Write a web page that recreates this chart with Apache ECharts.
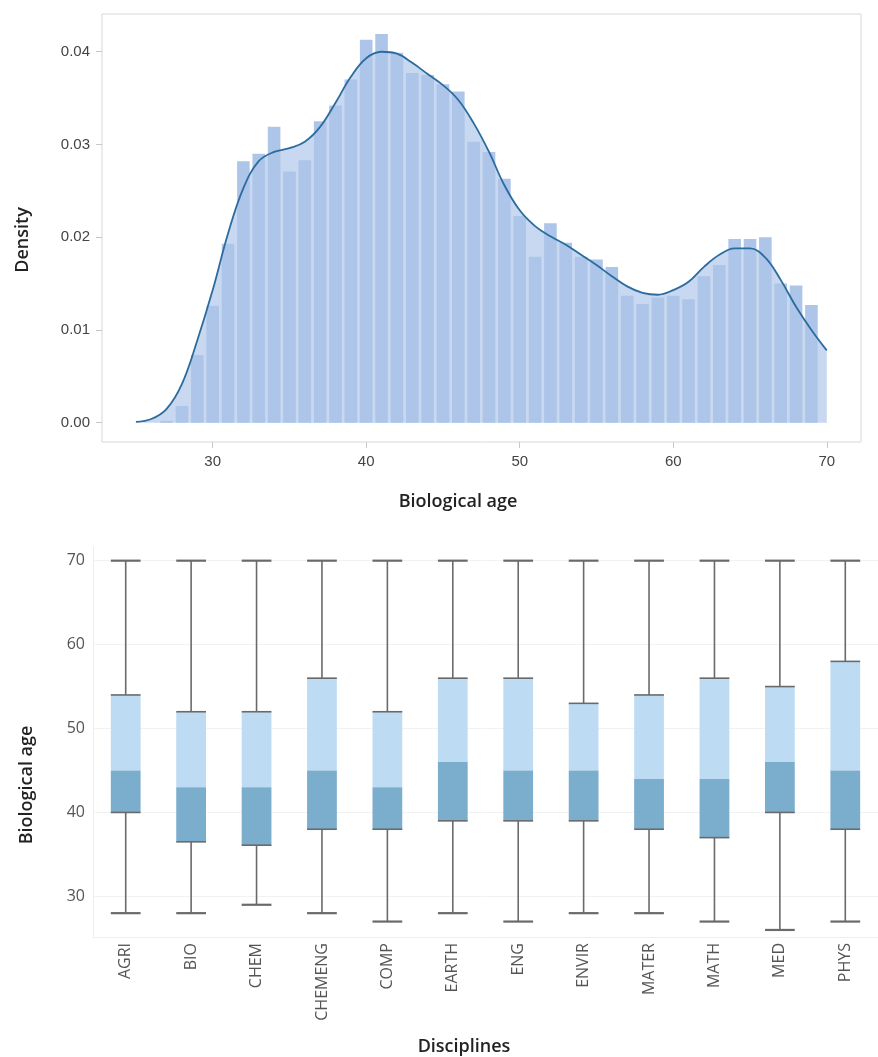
<!DOCTYPE html>
<html>
<head>
<meta charset="utf-8">
<script src="https://cdn.jsdelivr.net/npm/echarts@6/dist/echarts.min.js"></script>
<style>
  html, body { margin: 0; padding: 0; background: #ffffff; }
  #chart { width: 878px; height: 1057px; }
</style>
</head>
<body>
<div id="chart"></div>
<script>
// ---------- Top: histogram + KDE of biological age ----------
const histBins = [27, 28, 29, 30, 31, 32, 33, 34, 35, 36, 37, 38, 39, 40, 41, 42, 43, 44, 45, 46, 47, 48,
                  49, 50, 51, 52, 53, 54, 55, 56, 57, 58, 59, 60, 61, 62, 63, 64, 65, 66, 67, 68, 69];
const histDensity = [0.0002, 0.0018, 0.0073, 0.0126, 0.0193, 0.0282, 0.0290, 0.0319, 0.0271, 0.0283, 0.0325,
                     0.0342, 0.0370, 0.0413, 0.0419, 0.0399, 0.0377, 0.0375, 0.0365, 0.0357, 0.0303, 0.0292,
                     0.0263, 0.0223, 0.0179, 0.0215, 0.0194, 0.0179, 0.0176, 0.0168, 0.0137, 0.0128, 0.0135,
                     0.0137, 0.0133, 0.0158, 0.0170, 0.0198, 0.0198, 0.0200, 0.0150, 0.0148, 0.0127];
const kdeX = [25, 26, 27, 28, 29, 30, 31, 32, 33, 34, 35, 36, 37, 38, 39, 40, 41, 42, 43, 44, 45, 46, 47,
              48, 49, 50, 51, 52, 53, 54, 55, 56, 57, 58, 59, 60, 61, 62, 63, 64, 65, 66, 67, 68, 69, 70];
const kdeY = [0.0001, 0.0004, 0.0015, 0.0042, 0.0089, 0.0143, 0.0204, 0.0253, 0.0282, 0.0292, 0.0296, 0.0303,
              0.0319, 0.0345, 0.0373, 0.0393, 0.0400, 0.0398, 0.0388, 0.0376, 0.0364, 0.0348, 0.0323,
              0.0292, 0.0256, 0.0229, 0.0212, 0.0201, 0.0192, 0.0181, 0.0170, 0.0158, 0.0147, 0.0140,
              0.0138, 0.0143, 0.0152, 0.0168, 0.0181, 0.0188, 0.0188, 0.0178, 0.0154, 0.0125, 0.0100, 0.0078];
const densityTicks = [0, 0.01, 0.02, 0.03, 0.04];
const ageTicksTop = [30, 40, 50, 60, 70];

// ---------- Bottom: boxplots per discipline ----------
const disciplines = ['AGRI', 'BIO', 'CHEM', 'CHEMENG', 'COMP', 'EARTH', 'ENG', 'ENVIR', 'MATER', 'MATH', 'MED', 'PHYS'];
const whiskerLow  = [28, 28, 29, 28, 27, 28, 27, 28, 28, 27, 26, 27];
const quartile1   = [40, 36.5, 36.1, 38, 38, 39, 39, 39, 38, 37, 40, 38];
const medians     = [45, 43, 43, 45, 43, 46, 45, 45, 44, 44, 46, 45];
const quartile3   = [54, 52, 52, 56, 52, 56, 56, 53, 54, 56, 55, 58];
const whiskerHigh = [70, 70, 70, 70, 70, 70, 70, 70, 70, 70, 70, 70];
const ageTicksBottom = [30, 40, 50, 60, 70];

const histData = histBins.map((b, i) => [b, histDensity[i]]);
const kdeData = kdeX.map((x, i) => [x, kdeY[i]]);
const boxData = disciplines.map((d, i) => [i, whiskerLow[i], quartile1[i], medians[i], quartile3[i], whiskerHigh[i]]);

const GRAY = '#6a6a6a';
function renderBox(params, api) {
  const i = api.value(0);
  const lo = api.coord([i, api.value(1)]);
  const q1 = api.coord([i, api.value(2)]);
  const md = api.coord([i, api.value(3)]);
  const q3 = api.coord([i, api.value(4)]);
  const hi = api.coord([i, api.value(5)]);
  const band = api.size([1, 0])[0];
  const w = band * 0.455;
  const cx = lo[0];
  const x0 = cx - w / 2, x1 = cx + w / 2;
  const ls = { stroke: GRAY, lineWidth: 1.6 };
  return {
    type: 'group',
    children: [
      { type: 'rect', shape: { x: x0, y: q3[1], width: w, height: md[1] - q3[1] }, style: { fill: '#bddcf4' } },
      { type: 'rect', shape: { x: x0, y: md[1], width: w, height: q1[1] - md[1] }, style: { fill: '#7badcd' } },
      { type: 'line', shape: { x1: cx, y1: hi[1], x2: cx, y2: q3[1] }, style: ls },
      { type: 'line', shape: { x1: cx, y1: q1[1], x2: cx, y2: lo[1] }, style: ls },
      { type: 'line', shape: { x1: x0, y1: hi[1], x2: x1, y2: hi[1] }, style: { stroke: GRAY, lineWidth: 2.2 } },
      { type: 'line', shape: { x1: x0, y1: lo[1], x2: x1, y2: lo[1] }, style: { stroke: GRAY, lineWidth: 2.2 } },
      { type: 'line', shape: { x1: x0, y1: q3[1], x2: x1, y2: q3[1] }, style: ls },
      { type: 'line', shape: { x1: x0, y1: q1[1], x2: x1, y2: q1[1] }, style: ls }
    ]
  };
}

const titleFont = { color: '#222', fontSize: 18, fontWeight: 600, fontFamily: 'Open Sans' };

const chart = echarts.init(document.getElementById('chart'), null, { renderer: 'canvas' });
chart.setOption({
  backgroundColor: '#ffffff',
  animation: false,
  grid: [
    { left: 102, right: 17, top: 14, height: 428, show: true, borderColor: '#d8d8d8', borderWidth: 1, backgroundColor: 'transparent' },
    { left: 93, right: -5, top: 547, height: 391 }
  ],
  xAxis: [
    {
      gridIndex: 0, type: 'value', min: 22.79, max: 72.23,
      name: 'Biological age', nameLocation: 'middle', nameGap: 51,
      nameTextStyle: Object.assign({}, titleFont, { padding: [0, 47, 0, 0] }),
      axisLine: { show: false, onZero: false },
      axisTick: { show: true, length: 6, lineStyle: { color: '#c8c8c8' }, customValues: ageTicksTop },
      axisLabel: { customValues: ageTicksTop, color: '#444', fontSize: 15, fontFamily: 'Liberation Sans', margin: 12 },
      splitLine: { show: false }
    },
    {
      gridIndex: 1, type: 'category', data: disciplines,
      name: 'Disciplines', nameLocation: 'middle', nameGap: 101,
      nameTextStyle: Object.assign({}, titleFont, { padding: [0, 43, 0, 0] }),
      axisLine: { show: true, lineStyle: { color: '#eeeeee' } },
      axisTick: { show: false },
      axisLabel: { rotate: 90, color: '#555', fontSize: 16, fontFamily: 'Open Sans', margin: 6 },
      splitLine: { show: false }
    }
  ],
  yAxis: [
    {
      gridIndex: 0, type: 'value', min: -0.00208, max: 0.04407,
      name: 'Density', nameLocation: 'middle', nameGap: 70,
      nameTextStyle: Object.assign({}, titleFont, { padding: [0, 24, 0, 0] }),
      axisLine: { show: false },
      axisTick: { show: true, length: 6, lineStyle: { color: '#c8c8c8' }, customValues: densityTicks },
      axisLabel: { customValues: densityTicks, color: '#444', fontSize: 15, fontFamily: 'Liberation Sans', margin: 12,
                   formatter: v => v.toFixed(2) },
      splitLine: { show: false }
    },
    {
      gridIndex: 1, type: 'value', min: 25.16, max: 71.63,
      name: 'Biological age', nameLocation: 'middle', nameGap: 57,
      nameTextStyle: Object.assign({}, titleFont, { padding: [0, 86, 0, 0] }),
      axisLine: { show: true, lineStyle: { color: '#eeeeee' } },
      axisTick: { show: false, customValues: ageTicksBottom },
      axisLabel: { customValues: ageTicksBottom, color: '#555', fontSize: 16, fontFamily: 'Open Sans', margin: 8 },
      splitLine: { show: true, lineStyle: { color: '#f2f2f2', width: 1 } }
    }
  ],
  series: [
    {
      name: 'kde-fill', type: 'line', xAxisIndex: 0, yAxisIndex: 0, data: kdeData,
      smooth: 0.4, symbol: 'none', lineStyle: { width: 0 },
      areaStyle: { color: '#c7d8f0', opacity: 1 }, z: 1
    },
    {
      name: 'histogram', type: 'bar', xAxisIndex: 0, yAxisIndex: 0, data: histData,
      barWidth: 12.6, itemStyle: { color: '#adc5e9' }, z: 2
    },
    {
      name: 'kde', type: 'line', xAxisIndex: 0, yAxisIndex: 0, data: kdeData,
      smooth: 0.4, symbol: 'none', lineStyle: { color: '#2b6c9e', width: 1.8 }, z: 3
    },
    {
      name: 'boxes', type: 'custom', xAxisIndex: 1, yAxisIndex: 1, data: boxData,
      encode: { x: 0, y: [1, 2, 3, 4, 5] }, renderItem: renderBox, z: 3
    }
  ]
});
</script>
</body>
</html>
